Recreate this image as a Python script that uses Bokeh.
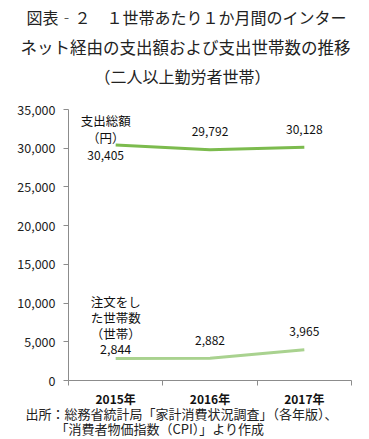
from bokeh.plotting import figure
from bokeh.models import Range1d, FixedTicker, NumeralTickFormatter, Title, ColumnDataSource
from bokeh.core.properties import value
from bokeh.embed import file_html
from bokeh.resources import INLINE

years = ["2015年", "2016年", "2017年"]
spend = [30405, 29792, 30128]
households = [2844, 2882, 3965]
title_lines = ["図表‐２　１世帯あたり１か月間のインター",
               "ネット経由の支出額および支出世帯数の推移",
               "（二人以上勤労者世帯）"]
footer_lines = ["出所：総務省統計局「家計消費状況調査」（各年版）、",
                "「消費者物価指数（CPI）」より作成"]
spend_name = "支出総額\n（円）"
house_name = "注文をし\nた世帯数\n（世帯）"

FONT = "Noto Sans CJK JP"
xs = list(range(1, len(years) + 1))

p = figure(width=369, height=439, output_backend="svg", toolbar_location=None,
           x_range=Range1d(0.5, len(years) + 0.5), y_range=Range1d(0, 35000),
           min_border_left=68, min_border_right=18, min_border_top=0, min_border_bottom=0)
p.outline_line_color = None
p.xgrid.visible = False
p.ygrid.visible = False

# title stack (top to bottom), plus a spacer above the frame
title_sizes = ["16px", "16.5px", "16px"]
title_standoffs = [3.7, 4.5, 1.3]
title_offsets = [-42, -48, 26]
p.add_layout(Title(text=" ", text_font_size="1px", standoff=18), "above")
for t, so, off, fs in reversed(list(zip(title_lines, title_standoffs, title_offsets, title_sizes))):
    p.add_layout(Title(text=t, align="left", text_font=FONT, text_font_size=fs,
                       text_font_style="normal", text_color="#222222", standoff=so,
                       offset=off), "above")

# y axis
ya = p.yaxis[0]
ya.ticker = FixedTicker(ticks=list(range(0, 35001, 5000)))
ya.formatter = NumeralTickFormatter(format="0,0")
ya.axis_line_color = "#8c8c8c"
ya.major_tick_line_color = "#8c8c8c"
ya.major_tick_out = 5
ya.major_tick_in = 0
ya.minor_tick_line_color = None
ya.major_label_text_font = FONT
ya.major_label_text_font_size = "12.5px"
ya.major_label_text_color = "#222222"
ya.major_label_standoff = 8

# x axis
xa = p.xaxis[0]
xa.ticker = FixedTicker(ticks=xs, minor_ticks=[x - 0.5 for x in xs] + [xs[-1] + 0.5])
xa.major_label_overrides = {x: y for x, y in zip(xs, years)}
xa.axis_line_color = "#8c8c8c"
xa.major_tick_line_color = None
xa.minor_tick_line_color = "#8c8c8c"
xa.minor_tick_out = 5
xa.minor_tick_in = 0
xa.major_label_text_font = FONT
xa.major_label_text_font_size = "12px"
xa.major_label_text_font_style = "bold"
xa.major_label_text_color = "#111111"
xa.major_label_standoff = 3

for t, off, so in zip(footer_lines, [-43, -13], [-15, 3]):
    p.add_layout(Title(text=t, align="left", text_font=FONT, text_font_size="13px",
                       text_font_style="normal", text_color="#222222", standoff=so,
                       offset=off), "below")

p.line(xs, spend, line_color="#7cbb4e", line_width=3)
p.line(xs, households, line_color="#a9d28f", line_width=3)

fmt = lambda v: f"{v:,}"
# value labels (2016, 2017 above points)
src_s = ColumnDataSource(dict(x=xs[1:], y=spend[1:], t=[fmt(v) for v in spend[1:]]))
p.text("x", "y", "t", source=src_s, text_align="center", text_baseline="middle",
       y_offset=-18, text_font=value(FONT), text_font_size="12px", text_color="#111111")
src_h = ColumnDataSource(dict(x=xs[1:], y=households[1:], t=[fmt(v) for v in households[1:]]))
p.text("x", "y", "t", source=src_h, text_align="center", text_baseline="middle",
       y_offset=-18, text_font=value(FONT), text_font_size="12px", text_color="#111111")

# 2015 labels
p.text([xs[0]], [spend[0]], [fmt(spend[0])], text_align="center", text_baseline="middle",
       x_offset=-10, y_offset=10, text_font=value(FONT), text_font_size="12px", text_color="#111111")
p.text([xs[0]], [spend[0]], [spend_name], text_align="center", text_baseline="bottom",
       x_offset=-10, y_offset=2, text_line_height=0.88,
       text_font=value(FONT), text_font_size="12.5px", text_color="#111111")
p.text([xs[0]], [households[0]], [house_name + "\n" + fmt(households[0])], text_align="center",
       text_baseline="bottom", y_offset=0, text_line_height=0.83,
       text_font=value(FONT), text_font_size="12.5px", text_color="#111111")

open("out.html", "w").write(file_html(p, INLINE))
